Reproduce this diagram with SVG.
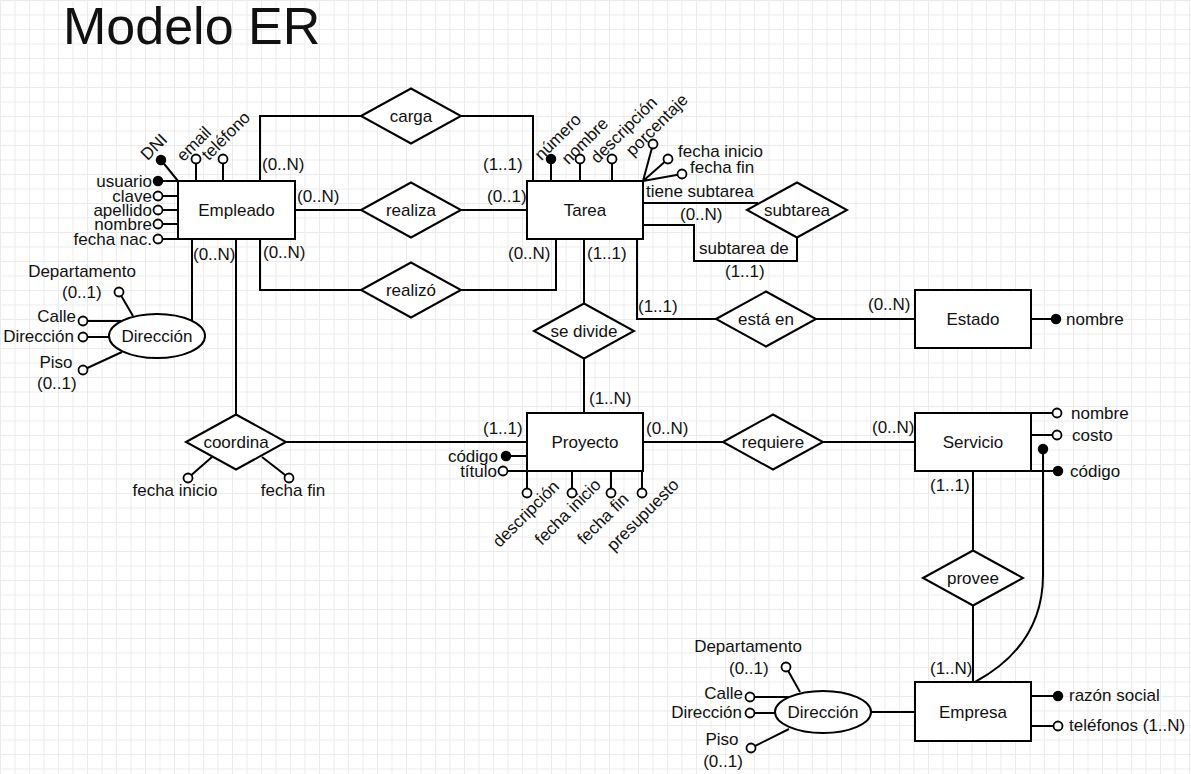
<svg xmlns="http://www.w3.org/2000/svg" width="1191" height="774" viewBox="0 0 1191 774">
  <defs>
    <pattern id="grid" width="14.5" height="14.5" patternUnits="userSpaceOnUse">
      <path d="M0 0 H14.5 M0 0 V14.5" fill="none" stroke="#ebebeb" stroke-width="2"/>
    </pattern>
  </defs>
  <style>
    text { font-family: "Liberation Sans", Arial, sans-serif; font-size: 17px; fill: #111; }
    .title { font-size: 52px; }
    .c { text-anchor: middle; }
    .e { text-anchor: end; }
    .r { text-anchor: middle; dominant-baseline: central; }
    .shape { fill: #fff; stroke: #000; stroke-width: 2; }
    .ln { fill: none; stroke: #000; stroke-width: 2; }
    .key { fill: #000; stroke: #000; stroke-width: 1.5; }
    .att { fill: #fff; stroke: #000; stroke-width: 1.8; }
  </style>

  <rect width="1191" height="774" fill="#fff"/>
  <rect width="1191" height="774" fill="url(#grid)"/>

  <text class="title" x="63" y="44">Modelo ER</text>

  <!-- relationship and attribute lines -->
  <g id="connectors">
    <!-- carga -->
    <path class="ln" d="M260 181 V116 H361 M461 116 H533 V181"/>
    <!-- realiza -->
    <path class="ln" d="M295 210 H361 M461 210 H527"/>
    <!-- realizó -->
    <path class="ln" d="M260 239 V290 H361 M461 290 H556 V239"/>
    <!-- se divide -->
    <path class="ln" d="M584 239 V304 M584 358 V413"/>
    <!-- subtarea (recursive) -->
    <path class="ln" d="M643 203 H758"/>
    <path class="ln" d="M643 225 H694 V261 H797 V237"/>
    <!-- está en -->
    <path class="ln" d="M637 239 V319 H716 M815 319 H915"/>
    <!-- Empleado to Dirección -->
    <path class="ln" d="M192 239 V321"/>
    <!-- coordina -->
    <path class="ln" d="M236 239 V415 M286 442 H527"/>
    <!-- requiere -->
    <path class="ln" d="M643 442 H723 M823 442 H915"/>
    <!-- provee -->
    <path class="ln" d="M973 471 V551 M973 606 V682"/>
    <!-- composite key Servicio / Empresa -->
    <path class="ln" d="M975 682 Q1043 645 1043 575 V452"/>
    <!-- Dirección (Empresa) -->
    <path class="ln" d="M871 712 H915"/>

    <!-- Empleado attribute stems -->
    <path class="ln" d="M178 181 L161 160 M196 181 V159 M223 181 V159 M178 181 H158 M178 196 H158 M178 210 H158 M178 224 H158 M178 239 H158"/>
    <!-- Dirección (Empleado) attribute stems -->
    <path class="ln" d="M133 316 L119 292 M121 321 H83 M109 337 H83 M122 352 L83 370"/>
    <!-- Tarea attribute stems -->
    <path class="ln" d="M551 181 V159 M580 181 V159 M612 181 V159 M643 181 L653 144 M643 181 L668 159 M643 181 L682 174"/>
    <!-- Proyecto attribute stems -->
    <path class="ln" d="M527 456 H506 M527 471 H503 M527 471 V493 M572 471 V493 M611 471 V493 M642 471 V493"/>
    <!-- coordina attribute stems -->
    <path class="ln" d="M212 457 L188 478 M262 457 L289 478"/>
    <!-- Estado attribute stem -->
    <path class="ln" d="M1031 319 H1056"/>
    <!-- Servicio attribute stems -->
    <path class="ln" d="M1031 413 H1057 M1031 435 H1057 M1031 471 H1058"/>
    <!-- Empresa attribute stems -->
    <path class="ln" d="M1031 696 H1058 M1031 726 H1058"/>
    <!-- Dirección (Empresa) attribute stems -->
    <path class="ln" d="M800 692 L786 667 M792 697 H750 M775 713 H750 M789 729 L751 748"/>
  </g>

  <!-- cardinality and role labels -->
  <g id="edge-labels">
    <text x="262" y="170">(0..N)</text>
    <text x="483" y="170">(1..1)</text>
    <text x="297" y="202">(0..N)</text>
    <text x="487" y="202">(0..1)</text>
    <text x="193" y="260">(0..N)</text>
    <text x="263" y="258">(0..N)</text>
    <text x="508" y="259">(0..N)</text>
    <text x="587" y="259">(1..1)</text>
    <text x="646" y="197">tiene subtarea</text>
    <text x="680" y="220">(0..N)</text>
    <text x="699" y="254">subtarea de</text>
    <text x="725" y="277">(1..1)</text>
    <text x="638" y="312">(1..1)</text>
    <text x="868" y="310">(0..N)</text>
    <text x="589" y="404">(1..N)</text>
    <text x="483" y="434">(1..1)</text>
    <text x="646" y="434">(0..N)</text>
    <text x="872" y="433">(0..N)</text>
    <text x="930" y="491">(1..1)</text>
    <text x="930" y="674">(1..N)</text>
  </g>

  <!-- entities -->
  <g id="empleado">
    <rect class="shape" x="178" y="181" width="117" height="58"/>
    <text class="c" x="236.5" y="216">Empleado</text>
    <circle class="key" cx="161" cy="160" r="4.5"/>
    <circle class="att" cx="196" cy="159" r="4.5"/>
    <circle class="att" cx="223" cy="159" r="4.5"/>
    <text class="r" transform="rotate(-45 154 147)" x="154" y="147">DNI</text>
    <text class="r" transform="rotate(-45 194 144)" x="194" y="144">email</text>
    <text class="r" transform="rotate(-45 226 136)" x="226" y="136">teléfono</text>
    <circle class="key" cx="158" cy="181" r="4.5"/>
    <circle class="att" cx="158" cy="196" r="4.5"/>
    <circle class="att" cx="158" cy="210" r="4.5"/>
    <circle class="att" cx="158" cy="224" r="4.5"/>
    <circle class="att" cx="158" cy="239" r="4.5"/>
    <text class="e" x="152" y="187">usuario</text>
    <text class="e" x="152" y="202">clave</text>
    <text class="e" x="152" y="216">apellido</text>
    <text class="e" x="152" y="230">nombre</text>
    <text class="e" x="152" y="245">fecha nac.</text>
  </g>

  <g id="direccion-empleado">
    <ellipse class="shape" cx="157" cy="336" rx="48" ry="22"/>
    <text class="c" x="157" y="342">Dirección</text>
    <circle class="att" cx="119" cy="292" r="4.5"/>
    <circle class="att" cx="83" cy="321" r="4.5"/>
    <circle class="att" cx="83" cy="337" r="4.5"/>
    <circle class="att" cx="83" cy="370" r="4.5"/>
    <text class="c" x="82" y="277">Departamento</text>
    <text x="62" y="298">(0..1)</text>
    <text class="e" x="76" y="322">Calle</text>
    <text class="e" x="74" y="342">Dirección</text>
    <text class="c" x="56" y="368">Piso</text>
    <text x="37" y="389">(0..1)</text>
  </g>

  <g id="tarea">
    <rect class="shape" x="527" y="181" width="116" height="58"/>
    <text class="c" x="585" y="216">Tarea</text>
    <circle class="key" cx="551" cy="159" r="4.5"/>
    <circle class="att" cx="580" cy="159" r="4.5"/>
    <circle class="att" cx="612" cy="159" r="4.5"/>
    <circle class="att" cx="653" cy="144" r="4.5"/>
    <circle class="att" cx="668" cy="159" r="4.5"/>
    <circle class="att" cx="682" cy="174" r="4.5"/>
    <text class="r" transform="rotate(-45 558 137)" x="558" y="137">número</text>
    <text class="r" transform="rotate(-45 585 141)" x="585" y="141">nombre</text>
    <text class="r" transform="rotate(-45 624 130)" x="624" y="130">descripción</text>
    <text class="r" transform="rotate(-45 657 125)" x="657" y="125">porcentaje</text>
    <text x="678" y="157">fecha inicio</text>
    <text x="690" y="173">fecha fin</text>
  </g>

  <g id="estado">
    <rect class="shape" x="915" y="290" width="116" height="58"/>
    <text class="c" x="973" y="325">Estado</text>
    <circle class="key" cx="1056" cy="319" r="4.5"/>
    <text x="1066" y="325">nombre</text>
  </g>

  <g id="proyecto">
    <rect class="shape" x="527" y="413" width="116" height="58"/>
    <text class="c" x="585" y="448">Proyecto</text>
    <circle class="key" cx="506" cy="456" r="4.5"/>
    <circle class="att" cx="503" cy="471" r="4.5"/>
    <text class="e" x="498" y="462">código</text>
    <text class="e" x="497" y="477">título</text>
    <circle class="att" cx="527" cy="493" r="4.5"/>
    <circle class="att" cx="572" cy="493" r="4.5"/>
    <circle class="att" cx="611" cy="493" r="4.5"/>
    <circle class="att" cx="642" cy="493" r="4.5"/>
    <text class="r" transform="rotate(-45 526 514)" x="526" y="514">descripción</text>
    <text class="r" transform="rotate(-45 568 512)" x="568" y="512">fecha inicio</text>
    <text class="r" transform="rotate(-45 603 519)" x="603" y="519">fecha fin</text>
    <text class="r" transform="rotate(-45 643 515)" x="643" y="515">presupuesto</text>
  </g>

  <g id="servicio">
    <rect class="shape" x="915" y="413" width="116" height="58"/>
    <text class="c" x="973" y="448">Servicio</text>
    <circle class="att" cx="1057" cy="413" r="4.5"/>
    <circle class="att" cx="1057" cy="435" r="4.5"/>
    <circle class="key" cx="1058" cy="471" r="4.5"/>
    <circle class="key" cx="1043" cy="449" r="4.5"/>
    <text x="1071" y="419">nombre</text>
    <text x="1072" y="441">costo</text>
    <text x="1070" y="477">código</text>
  </g>

  <g id="empresa">
    <rect class="shape" x="915" y="682" width="116" height="59"/>
    <text class="c" x="973" y="718">Empresa</text>
    <circle class="key" cx="1058" cy="696" r="4.5"/>
    <circle class="att" cx="1058" cy="726" r="4.5"/>
    <text x="1069" y="701">razón social</text>
    <text x="1069" y="731">teléfonos (1..N)</text>
  </g>

  <g id="direccion-empresa">
    <ellipse class="shape" cx="823" cy="712" rx="48" ry="21"/>
    <text class="c" x="823" y="718">Dirección</text>
    <circle class="att" cx="786" cy="667" r="4.5"/>
    <circle class="att" cx="750" cy="697" r="4.5"/>
    <circle class="att" cx="750" cy="713" r="4.5"/>
    <circle class="att" cx="751" cy="748" r="4.5"/>
    <text class="c" x="748" y="652">Departamento</text>
    <text x="729" y="674">(0..1)</text>
    <text class="e" x="743" y="699">Calle</text>
    <text class="e" x="742" y="718">Dirección</text>
    <text class="c" x="722" y="745">Piso</text>
    <text class="c" x="723" y="767">(0..1)</text>
  </g>

  <!-- relationships -->
  <g id="carga">
    <polygon class="shape" points="361,116 411,88.5 461,116 411,143.5"/>
    <text class="c" x="411" y="122">carga</text>
  </g>
  <g id="realiza">
    <polygon class="shape" points="361,210 411,182.5 461,210 411,237.5"/>
    <text class="c" x="411" y="216">realiza</text>
  </g>
  <g id="realizo">
    <polygon class="shape" points="361,290 411,262.5 461,290 411,317.5"/>
    <text class="c" x="411" y="296">realizó</text>
  </g>
  <g id="se-divide">
    <polygon class="shape" points="534,331 584,303.5 634,331 584,358.5"/>
    <text class="c" x="584" y="337">se divide</text>
  </g>
  <g id="subtarea">
    <polygon class="shape" points="747,210 797,182.5 847,210 797,237.5"/>
    <text class="c" x="797" y="216">subtarea</text>
  </g>
  <g id="esta-en">
    <polygon class="shape" points="716,319 766,291.5 816,319 766,346.5"/>
    <text class="c" x="766" y="325">está en</text>
  </g>
  <g id="coordina">
    <polygon class="shape" points="186,442 236,414.5 286,442 236,469.5"/>
    <text class="c" x="236" y="448">coordina</text>
    <circle class="att" cx="188" cy="478" r="4.5"/>
    <circle class="att" cx="289" cy="478" r="4.5"/>
    <text class="c" x="175" y="496">fecha inicio</text>
    <text class="c" x="293" y="496">fecha fin</text>
  </g>
  <g id="requiere">
    <polygon class="shape" points="723,442 773,414.5 823,442 773,469.5"/>
    <text class="c" x="773" y="448">requiere</text>
  </g>
  <g id="provee">
    <polygon class="shape" points="923,578 973,550.5 1023,578 973,605.5"/>
    <text class="c" x="973" y="584">provee</text>
  </g>
</svg>
